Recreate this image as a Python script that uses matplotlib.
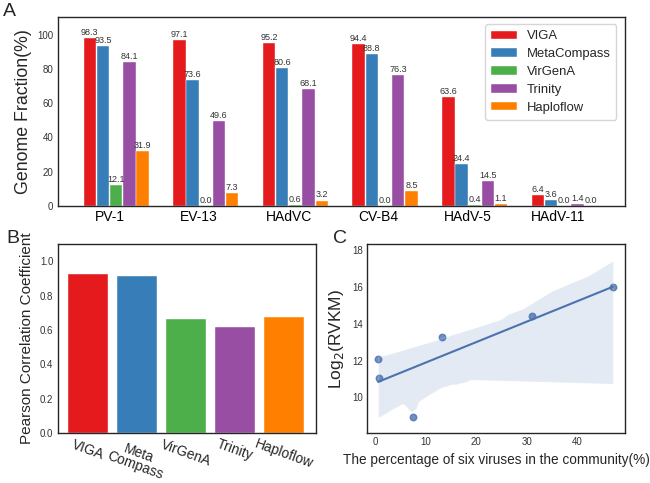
import numpy as np
import seaborn as sns
from matplotlib import pyplot as plt

sns.set_style('white')
plt.rcParams['font.family'] = ['Liberation Sans', 'DejaVu Sans']

# panel A data
viruses = ['PV-1', 'EV-13', 'HAdVC', 'CV-B4', 'HAdV-5', 'HAdV-11']
tools = ['VIGA', 'MetaCompass', 'VirGenA', 'Trinity', 'Haploflow']
viga = [98.3, 97.1, 95.2, 94.4, 63.6, 6.4]
metacompass = [93.5, 73.6, 80.6, 88.8, 24.4, 3.6]
virgena = [12.1, 0.0, 0.6, 0.0, 0.4, 0.0]
trinity = [84.1, 49.6, 68.1, 76.3, 14.5, 1.4]
haploflow = [31.9, 7.3, 3.2, 8.5, 1.1, 0.0]
colors = ['#e41a1c', '#377eb8', '#4daf4a', '#984ea3', '#ff7f00']

# panel B data
b_labels = ['VIGA', 'Meta\nCompass', 'VirGenA', 'Trinity', 'Haploflow']
pearson = [0.928, 0.917, 0.667, 0.618, 0.678]

# panel C data
pct = [0.6, 0.85, 7.5, 13.3, 31.0, 47.0]
log2rvkm = [12.1, 11.05, 8.95, 13.3, 14.4, 16.0]

fig = plt.figure(figsize=(6.5, 4.83), dpi=100)
axA = fig.add_axes([0.0885, 0.5735, 0.873, 0.3903])
axB = fig.add_axes([0.0885, 0.1035, 0.3975, 0.3907])
axC = fig.add_axes([0.5646, 0.1035, 0.3969, 0.3913])

spine_col = '#262626'
tick_col = '#333333'

# ---- A
w = 0.147
x = np.arange(len(viruses))
series = [viga, metacompass, virgena, trinity, haploflow]
for i, (vals, name) in enumerate(zip(series, tools)):
    pos = x + (i - 1.5) * w
    axA.bar(pos, vals, width=w - 0.008, color=colors[i], label=name,
            edgecolor='white', linewidth=0.3)
    for p, v in zip(pos, vals):
        axA.text(p, v + 0.6, '%.1f' % v, ha='center', va='bottom',
                 fontsize=6.5, color='#333333')
axA.set_xlim(-0.58, 5.75)
axA.set_ylim(0, 110)
axA.set_xticks(x)
axA.set_xticklabels(viruses, fontsize=10)
axA.set_yticks([0, 20, 40, 60, 80, 100])
axA.tick_params(axis='y', labelsize=7, colors=tick_col)
axA.tick_params(axis='x', colors='black')
axA.set_ylabel('Genome Fraction(%)', fontsize=12.8)
axA.legend(loc='upper right', fontsize=9.4, handlelength=2.0, handleheight=0.6,
           borderpad=0.45, labelspacing=0.45, handletextpad=0.75, frameon=True,
           borderaxespad=0, bbox_to_anchor=(0.985, 0.963))

# ---- B
xb = np.arange(len(b_labels))
axB.bar(xb, pearson, width=0.8, color=colors, edgecolor='white', linewidth=0.3)
axB.set_xlim(-0.62, 4.65)
axB.set_ylim(0, 1.1)
axB.set_xticks(xb)
axB.set_xticklabels(b_labels, rotation=-20, fontsize=10, ha='center',
                    linespacing=0.9)
axB.set_yticks([0.0, 0.2, 0.4, 0.6, 0.8, 1.0])
axB.tick_params(axis='y', labelsize=7, colors=tick_col)
axB.set_ylabel('Pearson Correlation Coefficient', fontsize=11)

# ---- C
sns.regplot(x=pct, y=log2rvkm, ax=axC, color='#4c72b0', seed=3,
            scatter_kws={'s': 22}, line_kws={'linewidth': 1.5})
axC.set_xlim(-1.6, 49.4)
axC.set_ylim(8.06, 18.33)
axC.set_xticks([0, 10, 20, 30, 40])
axC.set_yticks([10, 12, 14, 16, 18])
axC.tick_params(labelsize=7, colors=tick_col)
axC.set_xlabel('The percentage of six viruses in the community(%)', fontsize=9.8)
axC.set_ylabel('Log$_2$(RVKM)', fontsize=12.5)

for ax in (axA, axB, axC):
    for sp in ax.spines.values():
        sp.set_color(spine_col)
        sp.set_linewidth(1.0)
    ax.tick_params(length=0, pad=3)

fig.text(0.004, 0.976, 'A', fontsize=14, va='center')
fig.text(0.01, 0.506, 'B', fontsize=14, va='center')
fig.text(0.512, 0.506, 'C', fontsize=14, va='center')

fig.savefig('out.png', dpi=100)
